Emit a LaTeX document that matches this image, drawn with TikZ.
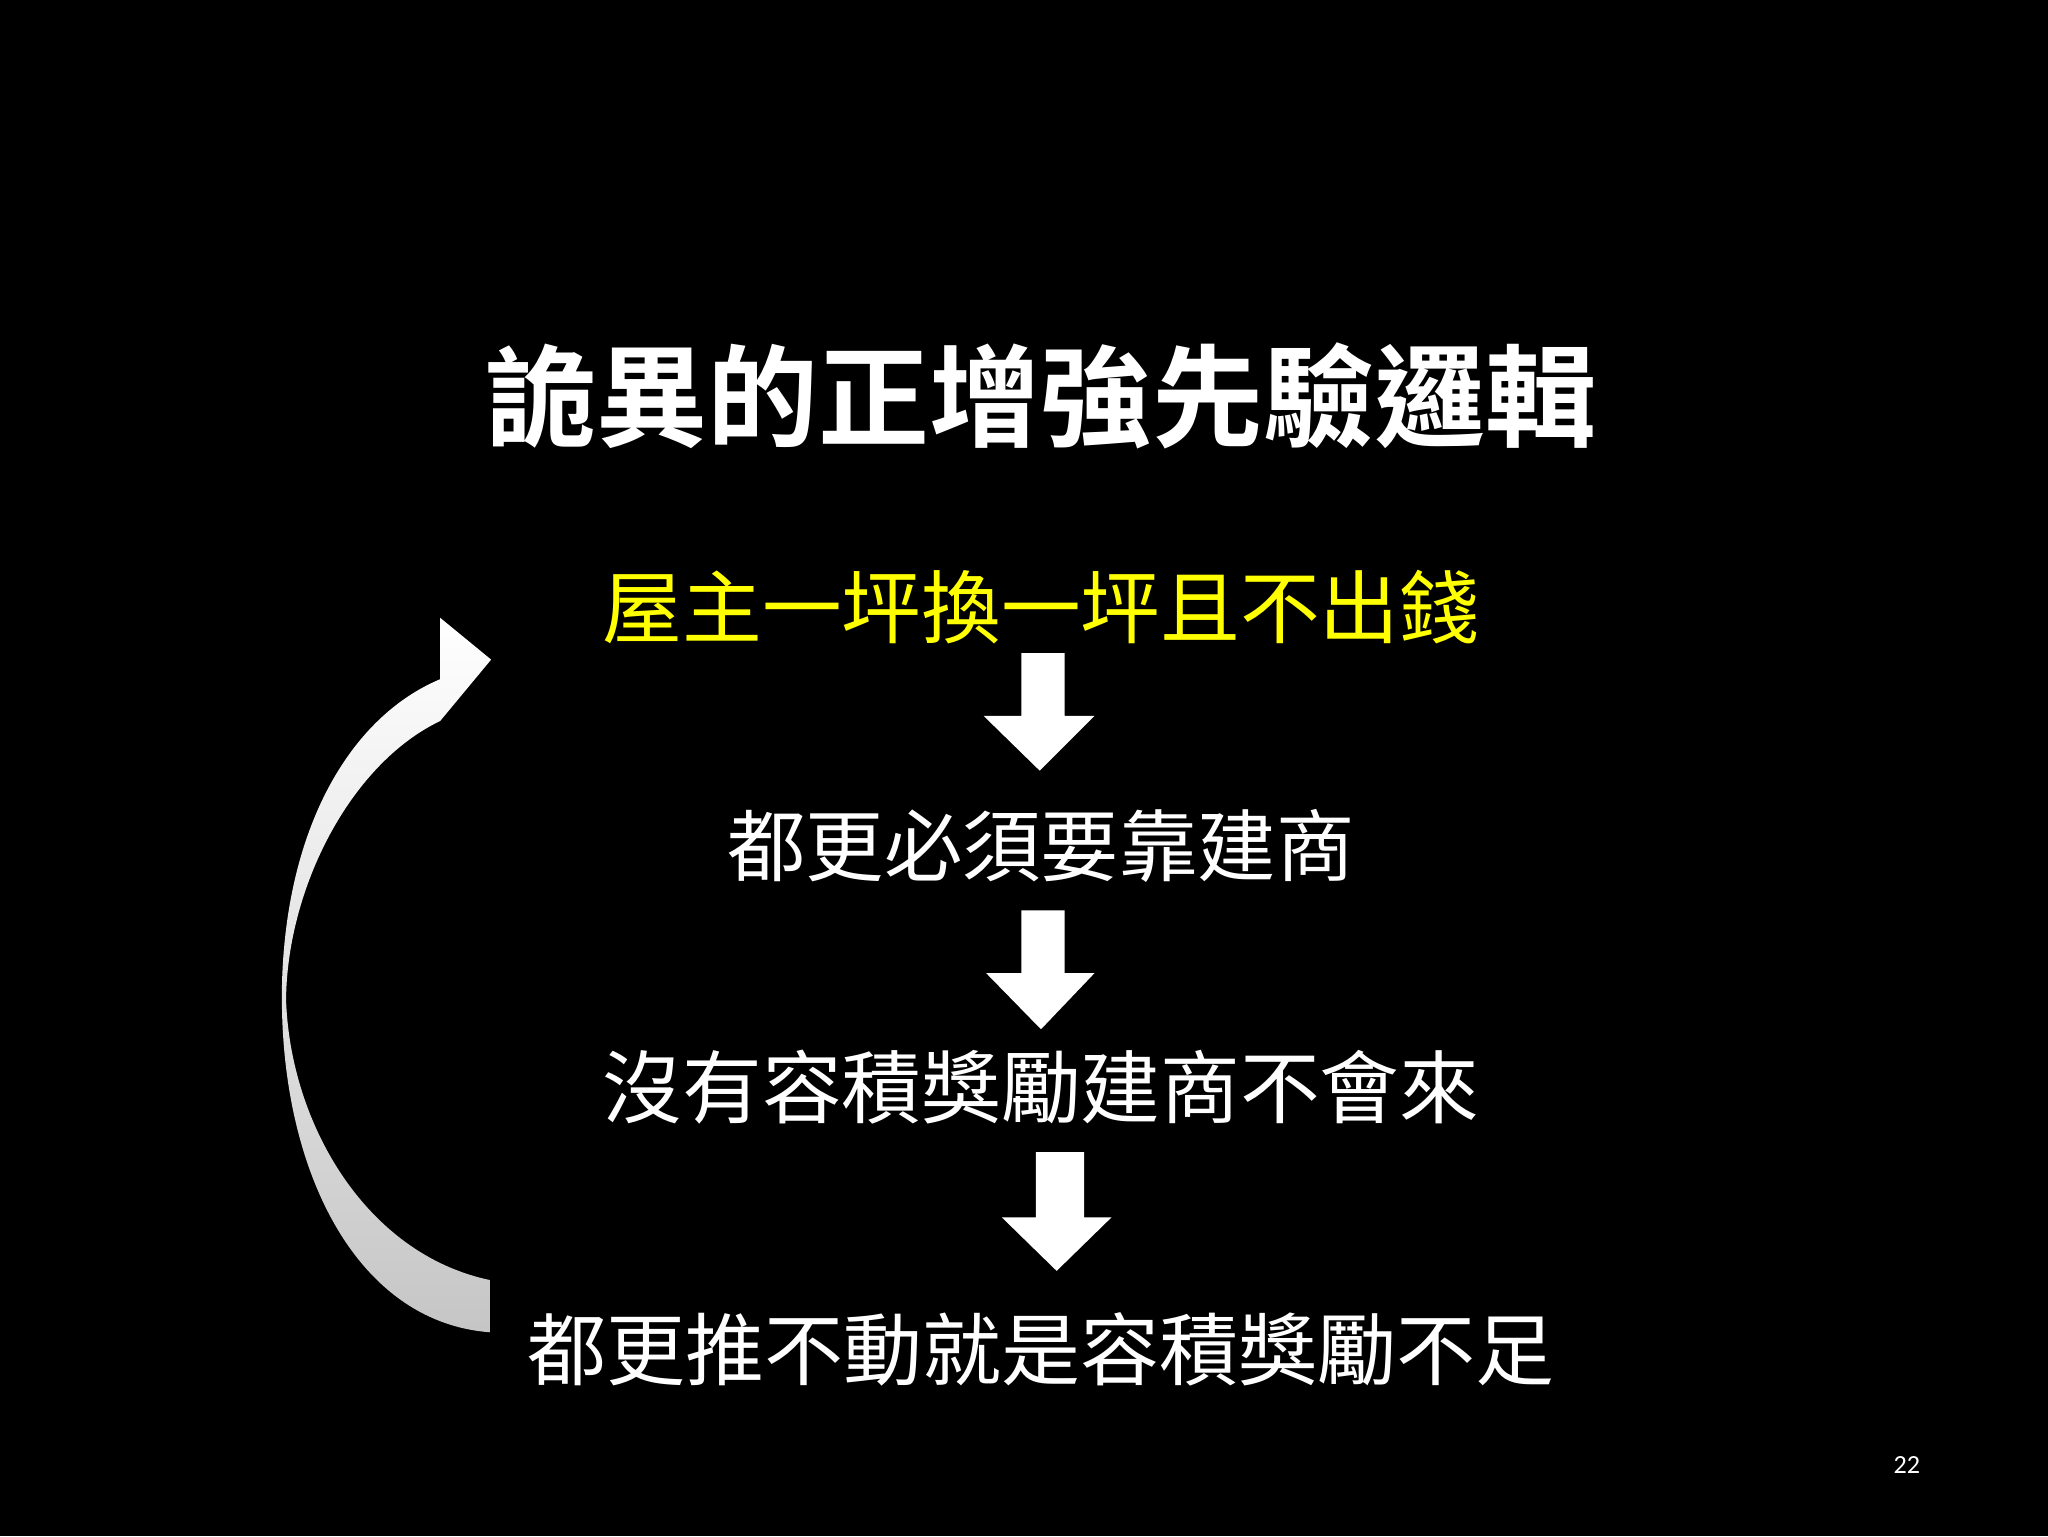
\documentclass[tikz,border=0pt]{standalone}
\usepackage{fontspec}
\newfontfamily\cjk{Noto Sans CJK TC}
\newfontfamily\cjkb{Noto Sans CJK TC}[BoldFont={* Bold}]
\setmainfont{Carlito}
\begin{document}
\begin{tikzpicture}[x=1pt,y=-1pt,
  txt/.style={text=white,inner sep=0pt,anchor=center},
  blockarrow/.style={fill=white,draw=none}]
\fill[black] (0,0) rectangle (1568,1176);
\useasboundingbox (0,0) rectangle (1568,1176);
\node[txt] (title) at (797,303) {\cjkb\bfseries\fontsize{85}{85}\selectfont 詭異的正增強先驗邏輯};
\node[txt,text={rgb,255:red,255;green,255;blue,0}] (l1) at (797,465) {\cjk\fontsize{61}{61}\selectfont 屋主一坪換一坪且不出錢};
\node[txt] (l2) at (797,648) {\cjk\fontsize{60}{60}\selectfont 都更必須要靠建商};
\node[txt] (l3) at (797,832) {\cjk\fontsize{61}{61}\selectfont 沒有容積獎勵建商不會來};
\node[txt] (l4) at (797,1033) {\cjk\fontsize{60.5}{60.5}\selectfont 都更推不動就是容積獎勵不足};
\node[txt,font=\fontsize{20}{20}\selectfont] (pg) at (1460,1122) {22};
% block arrows
\fill[blockarrow] (782,500) -- (815,500) -- (815,548) -- (838,548) -- (796,590) -- (753,548) -- (782,548) -- cycle;
\fill[blockarrow] (782,697) -- (815,697) -- (815,745) -- (838,745) -- (797,788) -- (755,745) -- (782,745) -- cycle;
\fill[blockarrow] (793,882) -- (830,882) -- (830,932) -- (851,932) -- (809,973) -- (767,932) -- (793,932) -- cycle;
% curved arrow
\shade[top color=white,bottom color=gray!45,draw=none]
  (375,1020) .. controls (270,1012) and (212,890) .. (216,750)
  .. controls (220,630) and (270,548) .. (337,520)
  -- (337,473) -- (376,505) -- (337,552)
  .. controls (268,585) and (220,680) .. (219,765)
  .. controls (222,860) and (280,960) .. (375,980) -- cycle;
\end{tikzpicture}
\end{document}
